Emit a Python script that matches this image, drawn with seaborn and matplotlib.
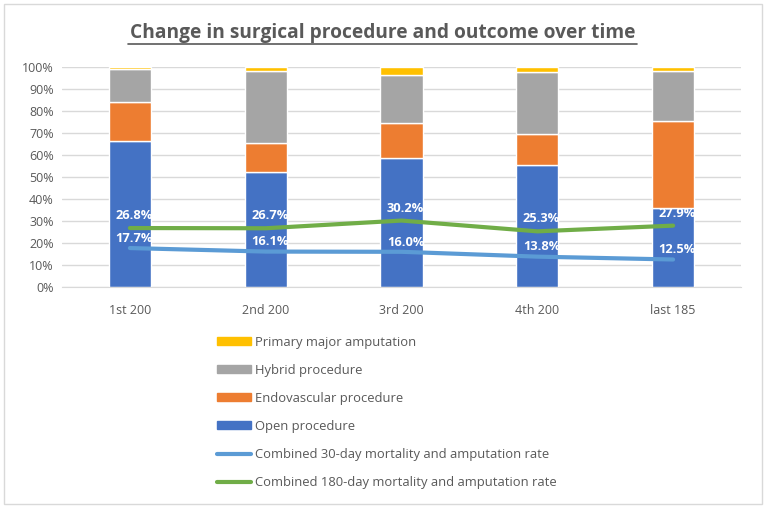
import numpy as np
import matplotlib.pyplot as plt
import seaborn as sns
from matplotlib.patches import Patch, Rectangle
from matplotlib.lines import Line2D

# Datos (porcentajes)
grupos = ["1st 200", "2nd 200", "3rd 200", "4th 200", "last 185"]
abierta = [66.5, 52.4, 58.8, 55.5, 36.1]
endovascular = [17.5, 13.2, 15.6, 13.9, 39.5]
hibrida = [14.9, 32.7, 22.1, 28.2, 22.7]
amputacion = [1.1, 1.7, 3.5, 2.4, 1.7]
mort_30 = [17.7, 16.1, 16.0, 13.8, 12.5]
mort_180 = [26.8, 26.7, 30.2, 25.3, 27.9]

sns.set_style("white")
plt.rcParams['font.family'] = ['Open Sans', 'DejaVu Sans']

gris_txt = "#595959"
colores = {"Open procedure": "#4472C4", "Endovascular procedure": "#ED7D31",
           "Hybrid procedure": "#A5A5A5", "Primary major amputation": "#FFC000"}

fig = plt.figure(figsize=(7.66, 5.08), dpi=100)
ax = fig.add_axes([62 / 766, 221 / 508, 679 / 766, 220 / 508])

# Barras apiladas
base = np.zeros(len(grupos))
series = [("Open procedure", abierta), ("Endovascular procedure", endovascular),
          ("Hybrid procedure", hibrida), ("Primary major amputation", amputacion)]
for nombre, vals in series:
    sns.barplot(x=grupos, y=vals, bottom=base, color=colores[nombre], width=0.31,
                saturation=1, ax=ax, zorder=2)
    base = base + np.array(vals)

# Líneas de mortalidad
pos = np.arange(len(grupos))
sns.lineplot(x=pos, y=mort_30, color="#5B9BD5", linewidth=3, ax=ax, zorder=3)
sns.lineplot(x=pos, y=mort_180, color="#70AD47", linewidth=3, ax=ax, zorder=3)

for i in range(len(grupos)):
    ax.annotate(f"{mort_30[i]:.1f}%", (pos[i], mort_30[i]), xytext=(3, 7),
                textcoords="offset points", ha="center", va="center",
                color="white", fontsize=9.3, fontweight="bold", zorder=4)
    ax.annotate(f"{mort_180[i]:.1f}%", (pos[i], mort_180[i]), xytext=(3, 9),
                textcoords="offset points", ha="center", va="center",
                color="white", fontsize=9.3, fontweight="bold", zorder=4)

ax.set_xlim(-0.5, len(grupos) - 0.5)
ax.set_ylim(0, 100)
ax.set_yticks(range(0, 101, 10))
ax.set_yticklabels([f"{v}%" for v in range(0, 101, 10)])
ax.grid(axis="y", color="#D9D9D9", linewidth=1, zorder=0)
ax.set_axisbelow(True)
for s in ["top", "right", "left"]:
    ax.spines[s].set_visible(False)
ax.spines["bottom"].set_color("#D9D9D9")
ax.tick_params(axis="both", length=0, colors=gris_txt, labelsize=9)
ax.tick_params(axis="x", pad=12)
ax.tick_params(axis="y", pad=6)
ax.set_xlabel("")
ax.set_ylabel("")

# Título
fig.text(0.5, 1 - 33 / 508, "Change in surgical procedure and outcome over time",
         ha="center", va="center", fontsize=13.8, fontweight="bold", color=gris_txt)
fig.add_artist(Line2D([128 / 766, 637 / 766], [1 - 44 / 508, 1 - 44 / 508],
                      color=gris_txt, linewidth=1.2))

# Leyenda
handles = [Patch(color=colores["Primary major amputation"], label="Primary major amputation"),
           Patch(color=colores["Hybrid procedure"], label="Hybrid procedure"),
           Patch(color=colores["Endovascular procedure"], label="Endovascular procedure"),
           Patch(color=colores["Open procedure"], label="Open procedure"),
           Line2D([], [], color="#5B9BD5", linewidth=3, label="Combined 30-day mortality and amputation rate"),
           Line2D([], [], color="#70AD47", linewidth=3, label="Combined 180-day mortality and amputation rate")]
leg = fig.legend(handles=handles, loc="upper left", bbox_to_anchor=(205 / 766, 1 - 324 / 508),
                 frameon=False, fontsize=9.4, handlelength=2.6, handleheight=0.5,
                 handletextpad=0.3, labelspacing=1.15, labelcolor=gris_txt)

# Borde de la figura
fig.add_artist(Rectangle((4 / 766, 4 / 508), 758 / 766, 500 / 508, fill=False,
                         edgecolor="#D9D9D9", linewidth=1, transform=fig.transFigure))

fig.savefig("out.png", dpi=100)
